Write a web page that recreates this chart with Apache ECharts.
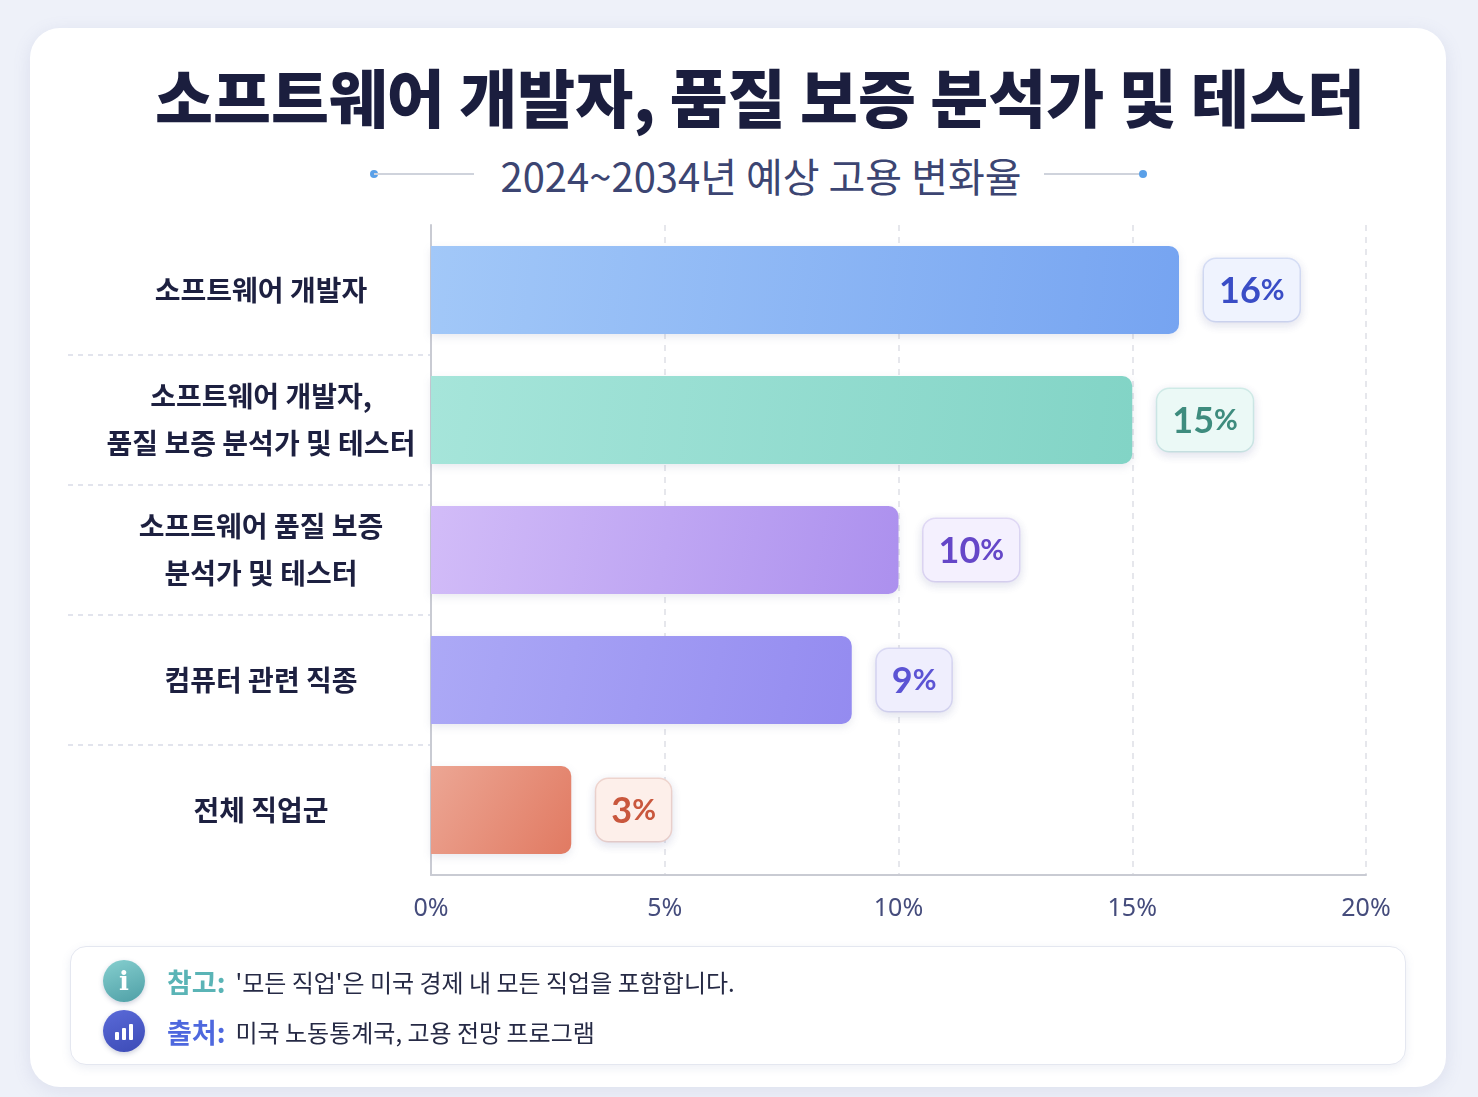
<!DOCTYPE html>
<html>
<head>
<meta charset="utf-8">
<script src="https://cdn.jsdelivr.net/npm/echarts@6/dist/echarts.min.js"></script>
<style>
	html,body{margin:0;padding:0;width:1478px;height:1097px;background:#eef1f9;overflow:hidden;
		font-family:"Noto Sans CJK KR","Noto Sans",sans-serif;}
	#card{position:absolute;left:30px;top:28px;width:1416px;height:1059px;background:#fff;
		border-radius:30px;box-shadow:0 4px 18px rgba(110,120,170,0.14);}
	#title{position:absolute;left:30px;top:52px;width:1460px;text-align:center;font-size:63px;
		font-weight:900;color:#1b1e3e;line-height:86px;}
	#sub{position:absolute;left:0;top:148px;width:1522px;text-align:center;font-size:40px;
		color:#3c4572;line-height:54px;}
	.deco{position:absolute;top:173px;height:2px;background:#cfd3dc;}
	.dot{position:absolute;top:170px;width:8px;height:8px;border-radius:50%;background:#5aa0e8;}
	#chart{position:absolute;left:30px;top:208px;width:1416px;height:730px;}
	#foot{position:absolute;left:70px;top:946px;width:1334px;height:117px;background:#fff;
		border:1px solid #e4e7f0;border-radius:16px;box-shadow:0 3px 10px rgba(110,120,170,0.12);}
	.row{position:absolute;left:32px;display:flex;align-items:center;}
	.ic{width:42px;height:42px;border-radius:50%;margin-right:22px;position:relative;
		box-shadow:0 2px 5px rgba(60,70,120,0.25);}
	.ic.i{background:linear-gradient(160deg,#86cfcf,#4e9fa6);color:#fff;font-family:"DejaVu Serif",serif;
		font-weight:bold;font-size:26px;text-align:center;line-height:42px;}
	.ic.b{background:linear-gradient(160deg,#5a6ad8,#3c4bb6);}
	.ic.b span{position:absolute;bottom:12px;width:4px;background:#fff;border-radius:1px;}
	.k{font-size:27px;font-weight:700;margin-right:10px;}
	.t{font-size:24px;color:#262a45;}
</style>
</head>
<body>
<div id="card"></div>
<div id="title">소프트웨어 개발자, 품질 보증 분석가 및 테스터</div>
<div class="dot" style="left:370px"></div><div class="deco" style="left:374px;width:100px"></div>
<div id="sub">2024~2034년 예상 고용 변화율</div>
<div class="deco" style="left:1044px;width:99px"></div><div class="dot" style="left:1139px"></div>
<div id="chart"></div>
<div id="foot">
	<div class="row" style="top:13px"><div class="ic i">i</div><span class="k" style="color:#5ab4b6">참고:</span><span class="t">'모든 직업'은 미국 경제 내 모든 직업을 포함합니다.</span></div>
	<div class="row" style="top:63px"><div class="ic b"><span style="left:12px;height:8px"></span><span style="left:19px;height:12px"></span><span style="left:26px;height:16px"></span></div><span class="k" style="color:#4e68de">출처:</span><span class="t">미국 노동통계국, 고용 전망 프로그램</span></div>
</div>
<script>
var categories = ["소프트웨어 개발자", "소프트웨어 개발자,\n품질 보증 분석가 및 테스터", "소프트웨어 품질 보증\n분석가 및 테스터", "컴퓨터 관련 직종", "전체 직업군"];
var values = [16, 15, 10, 9, 3];
var xTicks = [0, 5, 10, 15, 20];

// bar gradient (left, right), label text, label bg, label border
var barFrom = ["#a2c8f8", "#a6e5da", "#d2bcf8", "#aca9f6", "#eca694"];
var barTo = ["#76a4f1", "#82d4c6", "#ac90ee", "#948bf0", "#e17a62"];
var labelColor = ["#3a4dc6", "#3e8c7e", "#6547c8", "#5c54d4", "#c9573d"];
var labelBg = ["#eff3fe", "#ebf9f6", "#f4f0fe", "#efeefd", "#fdefea"];
var labelBorder = ["#d9e1f8", "#d3efe9", "#e4dcf8", "#dddcf6", "#f4d8cf"];

var chart = echarts.init(document.getElementById("chart"));

var data = values.map(function(v, i){
	return {
		value: v,
		itemStyle: {
			color: new echarts.graphic.LinearGradient(0, 0, 1, 1, [
				{offset: 0, color: barFrom[i]},
				{offset: 1, color: barTo[i]}
			])
		},
		label: {
			color: labelColor[i],
			backgroundColor: labelBg[i],
			borderColor: labelBorder[i]
		}
	};
});

chart.setOption({
	animation: false,
	grid: {left: 401, right: 80, top: 17, bottom: 63},
	xAxis: {
		type: 'value',
		min: xTicks[0],
		max: xTicks[xTicks.length - 1],
		interval: xTicks[1] - xTicks[0],
		axisLine: {show: true, lineStyle: {color: '#c9cbd3', width: 2}},
		axisTick: {show: false},
		axisLabel: {
			formatter: '{value}%',
			color: '#454c7c',
			fontSize: 25,
			margin: 21,
			fontFamily: 'Noto Sans'
		},
		splitLine: {
			show: true,
			lineStyle: {color: '#dedfe6', type: [6, 6], width: 1.5}
		}
	},
	yAxis: {
		type: 'category',
		inverse: true,
		data: categories,
		axisLine: {show: true, lineStyle: {color: '#c9cbd3', width: 2}},
		axisTick: {show: false},
		axisLabel: {
			color: '#1d2040',
			fontSize: 28,
			fontWeight: 'bold',
			fontFamily: 'Noto Sans CJK KR',
			align: 'center',
			margin: 170,
			lineHeight: 47
		}
	},
	series: [{
		type: 'bar',
		data: data,
		barWidth: 88,
		itemStyle: {
			borderRadius: [0, 10, 10, 0],
			shadowBlur: 8,
			shadowColor: 'rgba(60,70,120,0.12)',
			shadowOffsetY: 3
		},
		label: {
			show: true,
			position: 'right',
			distance: 25,
			formatter: function(p){ return '{n|' + p.value + '}{p|%}'; },
			padding: [12, 15, 10, 15],
			borderWidth: 1.5,
			borderRadius: 12,
			shadowBlur: 10,
			shadowColor: 'rgba(80,90,150,0.16)',
			shadowOffsetY: 3,
			rich: {
				n: {fontSize: 36, fontWeight: 'bold', fontFamily: 'Lato', lineHeight: 40},
				p: {fontSize: 29, fontWeight: 'bold', fontFamily: 'Lato', lineHeight: 40}
			}
		}
	}]
});

// dashed separators between rows, running under the labels
var seps = [];
for (var i = 0; i < categories.length - 1; i++) {
	var y = (chart.convertToPixel({yAxisIndex: 0}, categories[i]) + chart.convertToPixel({yAxisIndex: 0}, categories[i + 1])) / 2;
	seps.push({
		type: 'line',
		shape: {x1: 38, y1: y, x2: 400, y2: y},
		style: {stroke: '#d9dce8', lineWidth: 1.5, lineDash: [5, 5]}
	});
}
chart.setOption({graphic: seps});
</script>
</body>
</html>
